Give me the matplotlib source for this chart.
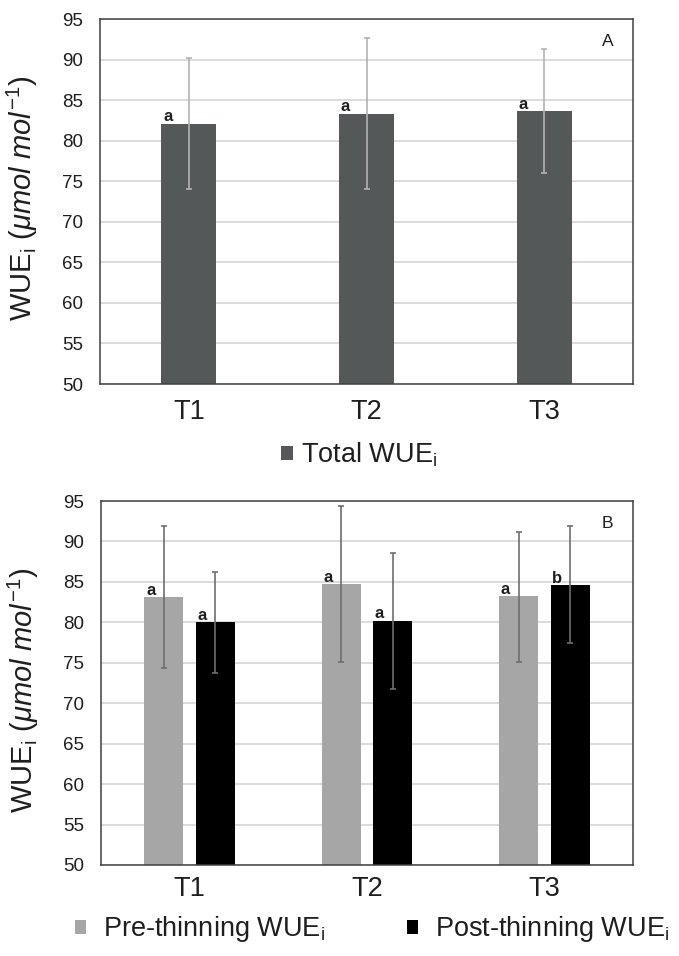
import matplotlib
matplotlib.use("Agg")
import matplotlib.pyplot as plt
import numpy as np
from matplotlib.patches import Patch

plt.rcParams['font.family'] = ['Liberation Sans', 'DejaVu Sans']
plt.rcParams['mathtext.fontset'] = 'custom'
plt.rcParams['mathtext.rm'] = 'Liberation Sans'
plt.rcParams['mathtext.it'] = 'Liberation Sans:italic'
plt.rcParams['mathtext.bf'] = 'Liberation Sans:bold'

# Data
treatments = ['T1', 'T2', 'T3']
total_wue = [82.1, 83.3, 83.6]
total_err_hi = [90.2, 92.6, 91.3]
total_err_lo = [74.1, 74.1, 76.0]
total_letters = ['a', 'a', 'a']

pre_wue = [83.1, 84.7, 83.2]
pre_err_hi = [91.9, 94.4, 91.2]
pre_err_lo = [74.3, 75.1, 75.1]
pre_letters = ['a', 'a', 'a']

post_wue = [80.0, 80.2, 84.6]
post_err_hi = [86.2, 88.6, 91.9]
post_err_lo = [73.8, 71.7, 77.5]
post_letters = ['a', 'a', 'b']

yticks = [50, 55, 60, 65, 70, 75, 80, 85, 90, 95]

TEXT = '#1e1e1e'
fig = plt.figure(figsize=(6.79, 9.56), dpi=100)
axA = fig.add_axes([0.1473, 0.5983, 0.785, 0.3818])
axB = fig.add_axes([0.1487, 0.0952, 0.7836, 0.3807])

ylab = r'WUE$_\mathregular{i}$ ($\mathit{\mu mol\ mol}^{\mathit{-1}}$)'


def style_axes(ax, label_y, xpad):
    ax.set_ylim(50, 95)
    ax.set_xlim(-0.5, 2.5)
    ax.set_yticks(yticks)
    ax.set_xticks(range(len(treatments)))
    ax.set_xticklabels(treatments)
    ax.tick_params(axis='y', length=0, pad=12, labelsize=13.5, labelcolor=TEXT)
    ax.tick_params(axis='x', length=0, pad=xpad, labelsize=19.5, labelcolor=TEXT)
    ax.grid(axis='y', color='#d9d9d9', linewidth=1.3)
    ax.set_axisbelow(True)
    for s in ax.spines.values():
        s.set_color('#404040')
        s.set_linewidth(1.1)
    ax.set_ylabel(ylab, fontsize=21, color=TEXT)
    ax.yaxis.set_label_coords(-0.112, label_y)


# Panel A
x = np.arange(len(treatments))
wA = 0.31
total_wue_arr = np.array(total_wue)
axA.bar(x, total_wue_arr - 50, bottom=50, width=wA, color='#555859', zorder=2)
axA.errorbar(x, total_wue_arr,
             yerr=[total_wue_arr - np.array(total_err_lo), np.array(total_err_hi) - total_wue_arr],
             fmt='none', ecolor='#b3b3b3', elinewidth=1.2, capsize=2.5, capthick=1.2, zorder=3)
for xi, v, t in zip(x, total_wue, total_letters):
    axA.text(xi - wA / 2 + 0.01, v + 0.35, t, ha='left', va='baseline',
             fontsize=12, fontweight='bold', color=TEXT)
axA.text(0.963, 0.96, 'A', transform=axA.transAxes, ha='right', va='top', fontsize=12.5, color=TEXT)
style_axes(axA, 0.51, 11)

# Panel B
wB = 0.22
off = 0.145
pre = np.array(pre_wue)
post = np.array(post_wue)
axB.bar(x - off, pre - 50, bottom=50, width=wB, color='#a6a6a6', zorder=2)
axB.bar(x + off, post - 50, bottom=50, width=wB, color='#000000', zorder=2)
axB.errorbar(x - off, pre, yerr=[pre - np.array(pre_err_lo), np.array(pre_err_hi) - pre],
             fmt='none', ecolor='#6e6e6e', elinewidth=1.2, capsize=2.5, capthick=1.2, zorder=3)
axB.errorbar(x + off, post, yerr=[post - np.array(post_err_lo), np.array(post_err_hi) - post],
             fmt='none', ecolor='#6e6e6e', elinewidth=1.2, capsize=2.5, capthick=1.2, zorder=3)
for xi, v, t in zip(x - off, pre_wue, pre_letters):
    axB.text(xi - wB / 2 + 0.01, v + 0.3, t, ha='left', va='baseline',
             fontsize=12, fontweight='bold', color=TEXT)
for xi, v, t in zip(x + off, post_wue, post_letters):
    axB.text(xi - wB / 2 + 0.01, v + 0.3, t, ha='left', va='baseline',
             fontsize=12, fontweight='bold', color=TEXT)
axB.text(0.963, 0.96, 'B', transform=axB.transAxes, ha='right', va='top', fontsize=12.5, color=TEXT)
style_axes(axB, 0.48, 8)

# Legends
legA = fig.legend(handles=[Patch(facecolor='#555859', label=r'Total WUE$_\mathregular{i}$')],
                  loc='center', bbox_to_anchor=(0.529, 0.524), frameon=False,
                  fontsize=19.5, handlelength=0.45, handleheight=0.45, handletextpad=0.3,
                  labelcolor=TEXT)
legB = fig.legend(handles=[Patch(facecolor='#a6a6a6', label=r'Pre-thinning WUE$_\mathregular{i}$'),
                           Patch(facecolor='#000000', label=r'Post-thinning WUE$_\mathregular{i}$')],
                  loc='center', bbox_to_anchor=(0.548, 0.028), frameon=False, ncol=2,
                  fontsize=19.5, handlelength=0.42, handleheight=0.42, handletextpad=0.63,
                  columnspacing=3.0, labelcolor=TEXT)

fig.savefig('out.png', dpi=100)
